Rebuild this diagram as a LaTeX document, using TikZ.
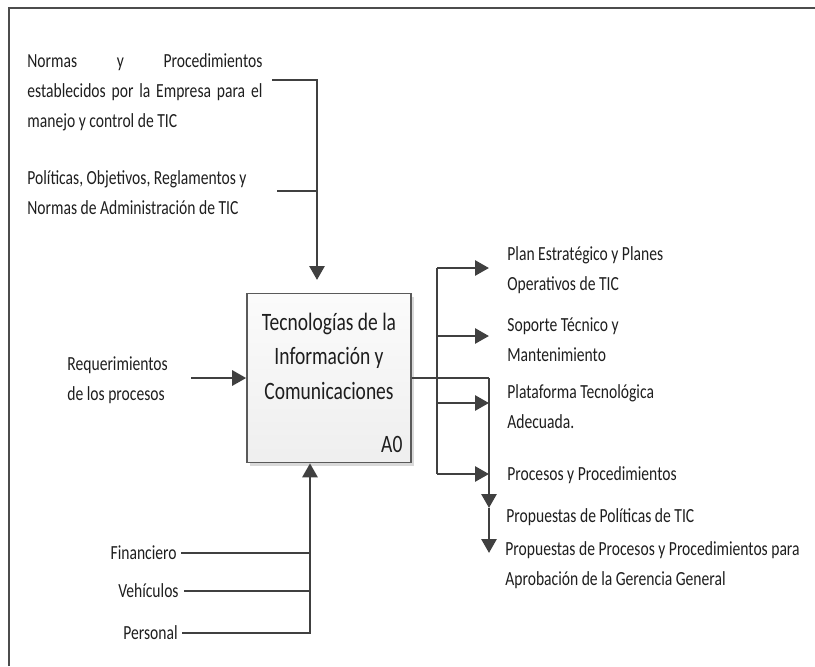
\documentclass[tikz,border=0pt]{standalone}
\usepackage{fontspec}
\setmainfont{Carlito}[FakeStretch=0.78]
\usepackage{tikz}
\usetikzlibrary{arrows.meta, positioning, shadows}
\definecolor{trazo}{HTML}{404040}
\definecolor{tinta}{HTML}{1E1E1E}
\definecolor{borde}{HTML}{5A5A5A}

\begin{document}
\begin{tikzpicture}[x=0.5pt, y=-0.5pt,
    texto/.style={font=\fontsize{10}{15}\selectfont, text=tinta, inner sep=0pt, align=left},
    titulo/.style={font=\fontsize{12.5}{17.25}\selectfont, text=tinta, inner sep=0pt, align=center},
    caja/.style={draw=borde, line width=0.8pt, top color=gray!3, bottom color=gray!13,
      minimum width=82pt, minimum height=84.5pt,
      drop shadow={shadow xshift=1.5pt, shadow yshift=-1.5pt, opacity=0.3}},
    linea/.style={draw=trazo, line width=1.4pt},
    flecha/.style={linea, -{Triangle[length=7pt, width=7.5pt]}},
    marco/.style={draw=gray!60!black, line width=1pt}]
    \useasboundingbox (0,0) rectangle (815,666);
    \draw[marco] (9,666) -- (9,8) -- (815,8);

    % actividad A0
    \node[caja] (a0) at (329,378) {};
    \node[titulo, below=10pt of a0.north] (tit) {Tecnologías de la\\Información y\\Comunicaciones};
    \node[titulo, above left=5pt and 4.5pt of a0.south east] (cod) {A0};

    % controles
    \node[texto, align=justify, text width=117.5pt, anchor=base west] (norma) at (27,67)
      {Normas y Procedimientos\linebreak establecidos por la Empresa para el\linebreak manejo y control de TIC};
    \node[texto, anchor=base west] (polit) at (27,214)
      {Políticas, Objetivos, Reglamentos y\\Normas de Administración de TIC};
    \coordinate (c1) at (272,80);
    \coordinate (c2) at (277,191);
    \coordinate (ctl) at (317,280);
    \draw[flecha] (c1) -| (ctl);
    \draw[linea] (c2) -- (c2 -| ctl);

    % entrada
    \node[texto, anchor=base west] (req) at (67,400) {Requerimientos\\de los procesos};
    \draw[flecha] ([xshift=11.5pt]req.east |- a0.west) -- (a0.west);

    % salidas
    \node[texto, anchor=base west] (plan) at (507,290) {Plan Estratégico y Planes\\Operativos de TIC};
    \node[texto, anchor=base west] (sop) at (507,361) {Soporte Técnico y\\Mantenimiento};
    \node[texto, anchor=base west] (plat) at (507,428) {Plataforma Tecnológica\\Adecuada.};
    \node[texto, anchor=base west] (proc) at (507,480) {Procesos y Procedimientos};
    \node[texto, anchor=base west] (ppol) at (506,522) {Propuestas de Políticas de TIC};
    \node[texto, anchor=base west] (pproc) at (505,585)
      {Propuestas de Procesos y Procedimientos para\\Aprobación de la Gerencia General};
    \coordinate (baja) at (489,378);
    \coordinate (medio) at (489,508);
    \coordinate (fin) at (489,553);
    \foreach \n/\y in {r1/268, r2/336, r3/403, r4/474}
      \coordinate (\n) at (437,\y);
    \draw[linea] (a0.east) -- (baja);
    \draw[linea] (r1) -- (r4);
    \foreach \n in {r1,r2,r3,r4}
      \draw[flecha] (\n) -- (\n -| baja);
    \draw[flecha] (baja) -- (medio);
    \draw[flecha] (medio) -- (fin);

    % mecanismos
    \node[texto, anchor=base east] (finan) at (177,559) {Financiero};
    \node[texto, anchor=base east] (vehic) at (179,597) {Vehículos};
    \node[texto, anchor=base east] (pers) at (178,639) {Personal};
    \coordinate (mec) at (310,633);
    \draw[linea] ([xshift=2pt]finan.east |- 0,553) -- (mec |- 0,553);
    \draw[linea] ([xshift=2.5pt]vehic.east |- 0,591) -- (mec |- 0,591);
    \draw[flecha] ([xshift=2pt]pers.east |- mec) -- (mec) -- (mec |- a0.south);
\end{tikzpicture}
\end{document}
